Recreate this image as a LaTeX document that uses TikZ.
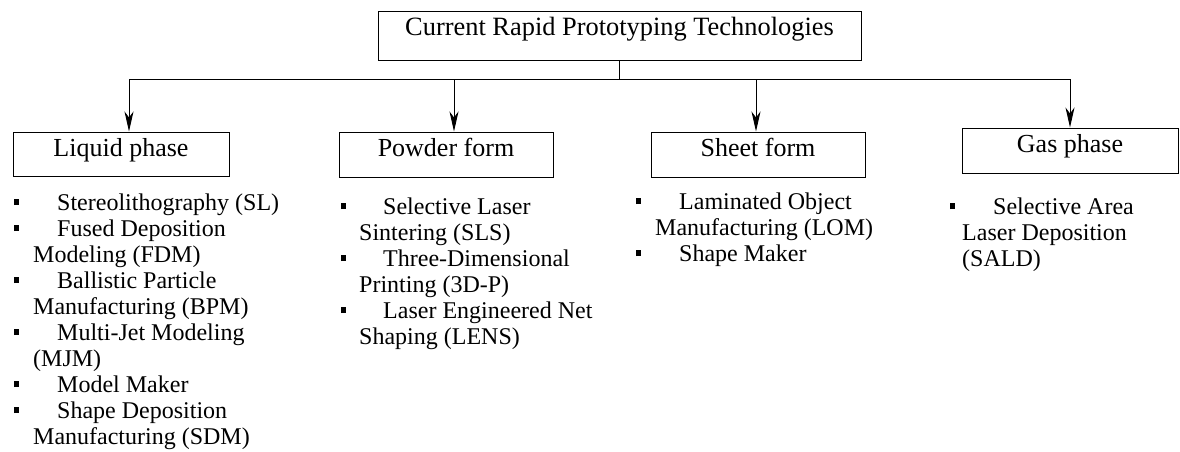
\documentclass[tikz,border=0pt]{standalone}
\usepackage{fontspec}
\setmainfont{Liberation Serif}
\usetikzlibrary{arrows.meta}
\newcommand{\bul}{\makebox[0pt][l]{\raisebox{5pt}{\rule{5pt}{6pt}}}}
\newcommand{\firstln}[2]{\strut\bul\hspace*{#1}#2}
\newcommand{\wrapln}[2]{\strut\hspace*{#1}#2}
\begin{document}
\begin{tikzpicture}[x=1pt,y=-1pt,
  box/.style={draw, line width=1pt, inner sep=0pt, font=\fontsize{26}{30}\selectfont},
  conn/.style={line width=1pt},
  arr/.style={conn, -{Stealth[length=20pt,width=9pt,inset=6pt]}},
  lst/.style={inner sep=0pt, align=left, anchor=north west, font=\fontsize{24}{26}\selectfont}]
\useasboundingbox (0,0) rectangle (1180,452);

\node[box, font=\fontsize{26.4}{30}\selectfont, minimum width=483, text height=24, text depth=25] (top) at (619.5,36.5) {Current Rapid Prototyping Technologies};

\node[box, minimum width=216, text height=24, text depth=20] (liq) at (121,154) {Liquid phase};
\node[box, minimum width=214, text height=24, text depth=21] (pow) at (446,154.5) {Powder form};
\node[box, minimum width=214, text height=24, text depth=21] (she) at (758,154.5) {Sheet form};
\node[box, minimum width=216, text height=24, text depth=21] (gas) at (1070,150.5) {Gas phase};

\coordinate (j) at (619.5,79);
\coordinate (hl) at (129,79);
\coordinate (hr) at (1070,79);
\coordinate (jp) at (454,79);
\coordinate (js) at (756,79);
\draw[conn] (top.south) -- (j);
\draw[conn] (hl) -- (hr);
\draw[arr] (hl) -- (hl |- liq.north);
\draw[arr] (jp) -- (jp |- pow.north);
\draw[arr] (js) -- (js |- she.north);
\draw[arr] (hr) -- (hr |- gas.north);

\node[lst] (lliq) at (14,191.8) {%
\firstln{43pt}{Stereolithography (SL)}\\
\firstln{43pt}{Fused Deposition}\\
\wrapln{19pt}{Modeling (FDM)}\\
\firstln{43pt}{Ballistic Particle}\\
\wrapln{19pt}{Manufacturing (BPM)}\\
\firstln{43pt}{Multi-Jet Modeling}\\
\wrapln{19pt}{(MJM)}\\
\firstln{43pt}{Model Maker}\\
\firstln{43pt}{Shape Deposition}\\
\wrapln{19pt}{Manufacturing (SDM)}};

\node[lst] (lpow) at (341,195.8) {%
\firstln{42pt}{Selective Laser}\\
\wrapln{18pt}{Sintering (SLS)}\\
\firstln{42pt}{Three-Dimensional}\\
\wrapln{18pt}{Printing (3D-P)}\\
\firstln{42pt}{Laser Engineered Net}\\
\wrapln{18pt}{Shaping (LENS)}};

\node[lst] (lshe) at (636,190.8) {%
\firstln{43pt}{Laminated Object}\\
\wrapln{19pt}{Manufacturing (LOM)}\\
\firstln{43pt}{Shape Maker}};

\node[lst] (lgas) at (950,195.8) {%
\firstln{43pt}{Selective Area}\\
\wrapln{12pt}{Laser Deposition}\\
\wrapln{12pt}{(SALD)}};
\end{tikzpicture}
\end{document}
